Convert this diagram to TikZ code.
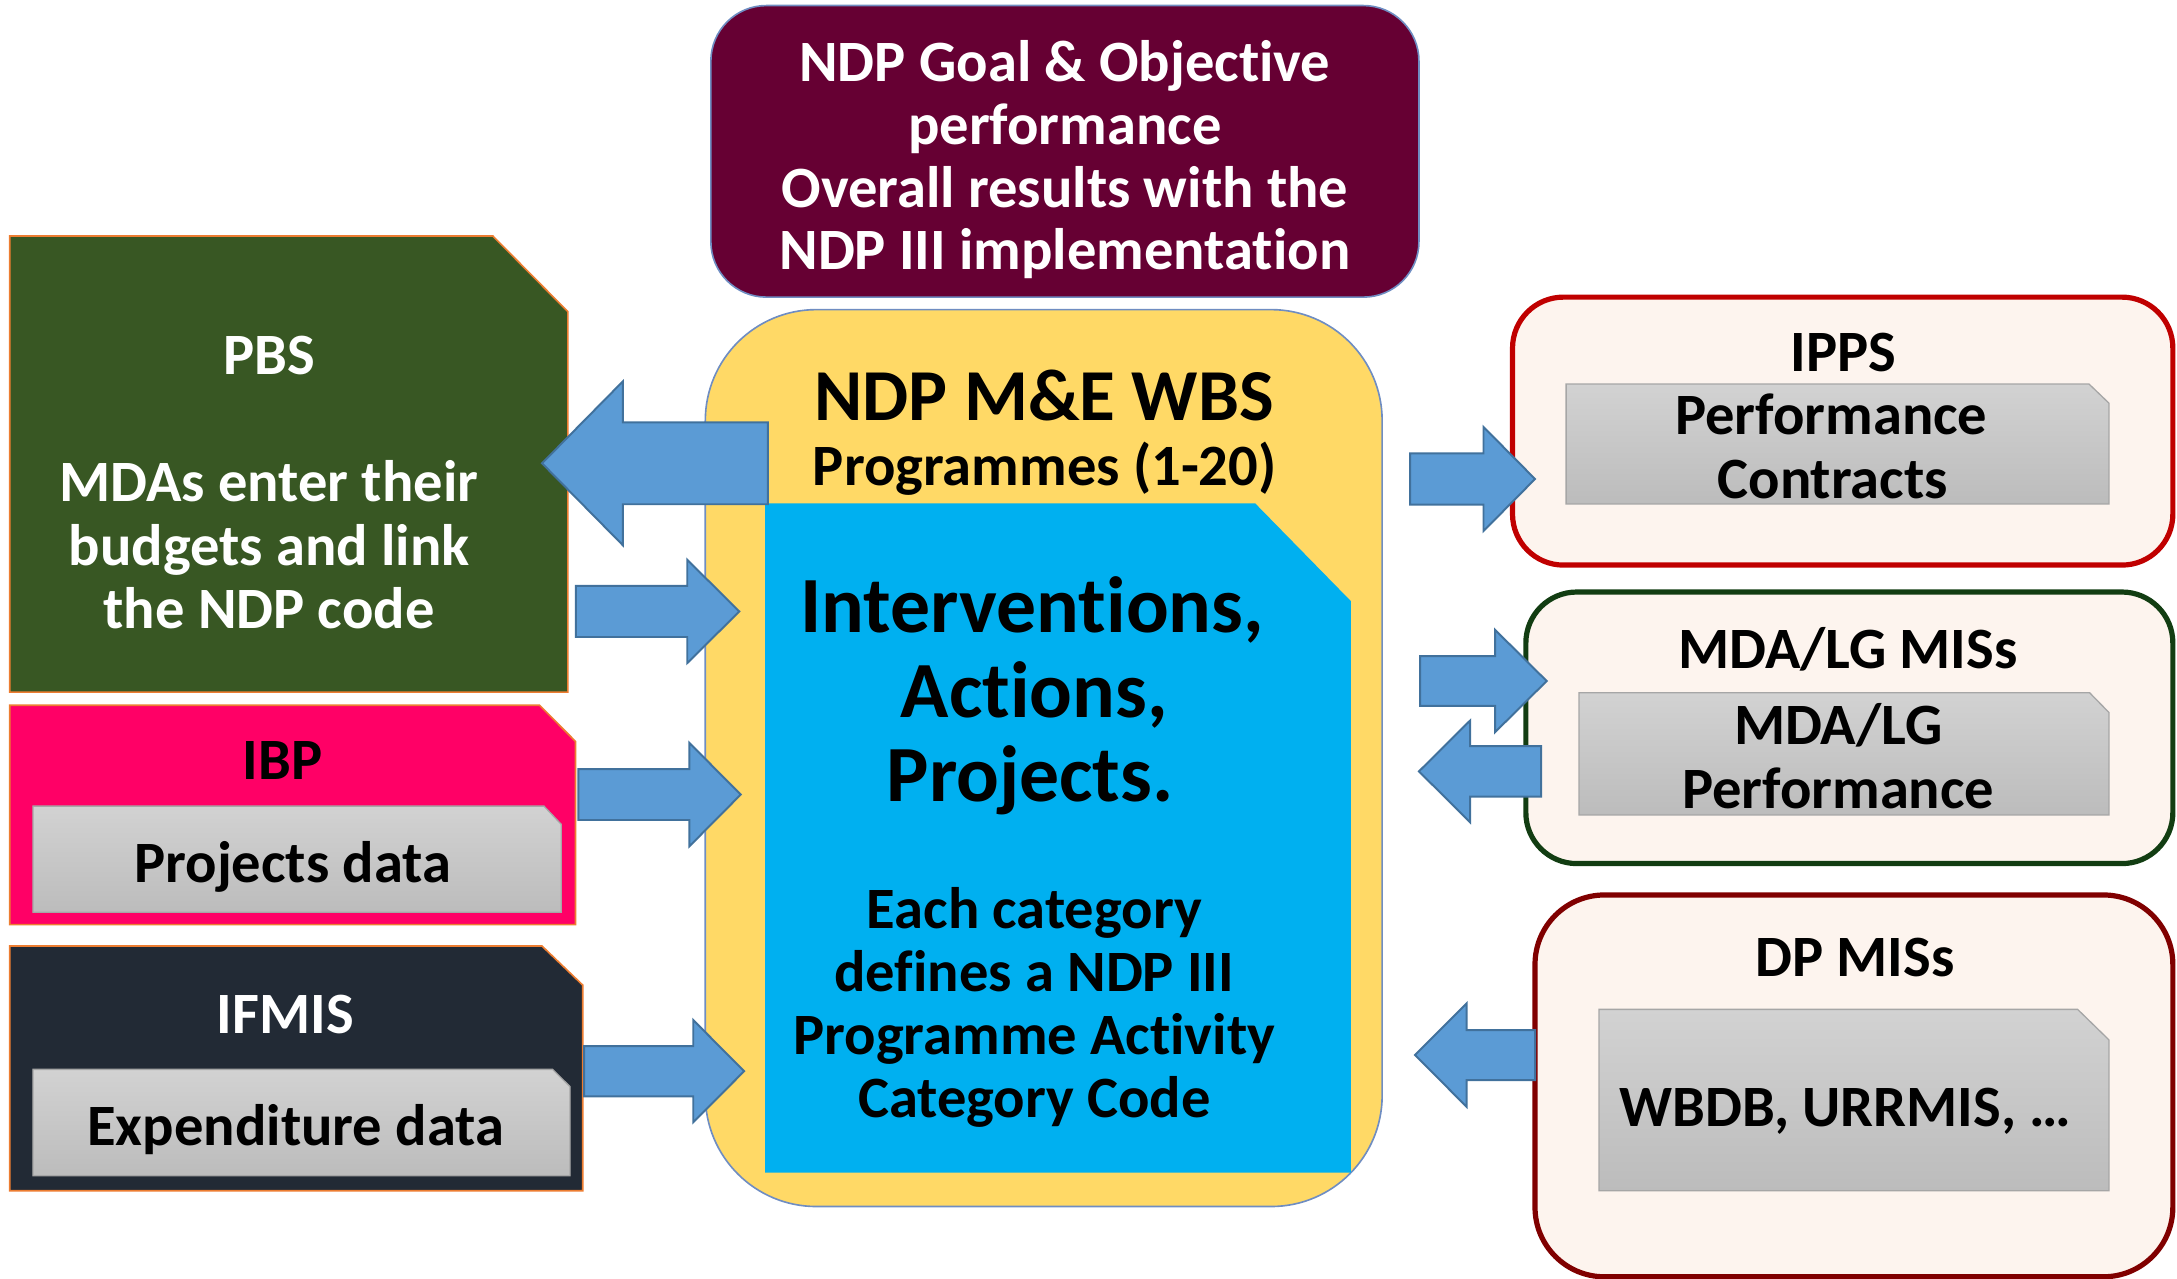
\documentclass[tikz,border=0pt]{standalone}
\usepackage{fontspec}
\setmainfont{Carlito}[Ligatures=NoCommon]
\definecolor{maroonbox}{HTML}{660033}
\definecolor{goldbox}{HTML}{FFD966}
\definecolor{cyanbox}{HTML}{00B0F0}
\definecolor{greenbox}{HTML}{385723}
\definecolor{pinkbox}{HTML}{FF0066}
\definecolor{navybox}{HTML}{222A35}
\definecolor{edgeorange}{HTML}{ED7D31}
\definecolor{edgeblue}{HTML}{6F8DC2}
\definecolor{arrowfill}{HTML}{5B9BD5}
\definecolor{arrowline}{HTML}{41719C}
\definecolor{greytop}{HTML}{D2D2D2}
\definecolor{greybot}{HTML}{BCBCBC}
\definecolor{greyline}{HTML}{A6A6A6}
\definecolor{linenbox}{HTML}{FDF4EE}
\definecolor{edgered}{HTML}{C00000}
\definecolor{edgegreen}{HTML}{123D12}
\definecolor{edgemaroon}{HTML}{800000}
\newcommand\blockarrow[6]{% tail x, head base x, tip x, centre y, shaft half, head half
  \draw[barrow] (#1,#4-#5) -- (#2,#4-#5) -- (#2,#4-#6) -- (#3,#4) -- (#2,#4+#6) -- (#2,#4+#5) -- (#1,#4+#5) -- cycle;}
\begin{document}
\begin{tikzpicture}[x=0.015cm,y=-0.015cm,
  txt/.style={anchor=base,inner sep=0pt,font=\fontsize{18}{20}\selectfont\bfseries},
  bigtxt/.style={anchor=base,inner sep=0pt,font=\fontsize{24.5}{26}\selectfont\bfseries},
  wbstxt/.style={anchor=base,inner sep=0pt,font=\fontsize{22.5}{26}\selectfont\bfseries},
  barrow/.style={fill=arrowfill,draw=arrowline,line width=0.6pt,line join=miter},
  leftbox/.style={draw=edgeorange,line width=0.5pt},
  greybox/.style={top color=greytop,bottom color=greybot,draw=greyline,line width=0.4pt},
  sysbox/.style={fill=linenbox,line width=1.6pt},
]
\useasboundingbox (0,0) rectangle (1568,921);

% top box
\draw[fill=maroonbox,draw=edgeblue,line width=0.5pt,rounded corners=0.6cm] (512,4) rectangle (1022,214);
\node[txt,white] (goal1) at (767,58.7) {NDP Goal \& Objective};
\node[txt,white] (goal2) at (767,104) {performance};
\node[txt,white] (goal3) at (767,149.2) {Overall results with the};
\node[txt,white] (goal4) at (767,194.4) {NDP III implementation};

% central WBS box
\draw[fill=goldbox,draw=edgeblue,line width=0.5pt,rounded corners=1.2cm] (508,223) rectangle (995.5,869);
\node[wbstxt] (wbs) at (752,303) {NDP M\&E WBS};
\node[txt] (prog) at (752.5,350) {Programmes (1-20)};
\fill[cyanbox] (551,362.5) -- (904,362.5) -- (973,433) -- (973,844.5) -- (551,844.5) -- cycle;
\node[bigtxt] (iap1) at (743.5,455.7) {Interventions,};
\node[bigtxt] (iap2) at (745,516.5) {Actions,};
\node[bigtxt] (iap3) at (742,577) {Projects.};
\node[txt] (cat1) at (745,668.8) {Each category};
\node[txt] (cat2) at (745,714.2) {defines a NDP III};
\node[txt] (cat3) at (745,759.6) {Programme Activity};
\node[txt] (cat4) at (745,805) {Category Code};

% PBS
\draw[leftbox,fill=greenbox] (7,170) -- (355,170) -- (409,224.5) -- (409,498.5) -- (7,498.5) -- cycle;
\node[txt,white] (pbs) at (193.8,270) {PBS};
\node[txt,white] (pbs1) at (193.8,361.5) {MDAs enter their};
\node[txt,white] (pbs2) at (193.8,407) {budgets and link};
\node[txt,white] (pbs3) at (193.8,452.5) {the NDP code};

% IBP
\draw[leftbox,fill=pinkbox] (7,508) -- (388.6,508) -- (414.5,534) -- (414.5,666) -- (7,666) -- cycle;
\node[txt] (ibp) at (203.4,561.3) {IBP};
\draw[greybox] (23.7,580.6) -- (391.8,580.6) -- (404.3,593.8) -- (404.3,657.1) -- (23.7,657.1) -- cycle;
\node[txt] (ibpdata) at (210.9,635.8) {Projects data};

% IFMIS
\draw[leftbox,fill=navybox] (7,681.4) -- (390.4,681.4) -- (419.7,709.5) -- (419.7,857.6) -- (7,857.6) -- cycle;
\node[txt,white] (ifmis) at (205.6,744.3) {IFMIS};
\draw[greybox] (23.7,770.2) -- (398,770.2) -- (410.6,782.7) -- (410.6,846.8) -- (23.7,846.8) -- cycle;
\node[txt] (ifmisdata) at (213,824.7) {Expenditure data};

% left arrows
\blockarrow{553}{448.6}{390.4}{333.7}{29.5}{59}
\blockarrow{414.8}{495}{532.5}{440.4}{18.4}{37.2}
\blockarrow{416.6}{496.5}{533.5}{572.3}{18.3}{37.3}
\blockarrow{420.7}{499.3}{536}{771.5}{18.1}{36.8}

% IPPS
\draw[sysbox,draw=edgered,rounded corners=0.55cm] (1089.4,214) rectangle (1565,407);
\node[txt] (ipps) at (1328,267.3) {IPPS};
\draw[greybox] (1128,276.6) -- (1504.6,276.6) -- (1519,290.4) -- (1519,363) -- (1128,363) -- cycle;
\node[txt] (ipps1) at (1319,313.3) {Performance};
\node[txt] (ipps2) at (1320,358.7) {Contracts};

% MDA/LG
\draw[sysbox,draw=edgegreen,rounded corners=0.55cm] (1099,426.4) rectangle (1565,622);
\node[txt] (mda) at (1331,481.4) {MDA/LG MISs};
\draw[greybox] (1137.3,498.9) -- (1505,498.9) -- (1519,513.2) -- (1519,587) -- (1137.3,587) -- cycle;
\node[txt] (mda1) at (1324,536) {MDA/LG};
\node[txt] (mda2) at (1324,582) {Performance};

% DP
\draw[sysbox,draw=edgemaroon,rounded corners=0.75cm] (1105.6,644.6) rectangle (1565,919.6);
\node[txt] (dp) at (1336,703.5) {DP MISs};
\draw[greybox] (1151.7,727) -- (1496.4,727) -- (1519,749) -- (1519,857.6) -- (1151.7,857.6) -- cycle;
\node[txt] (dp1) at (1329,811.5) {WBDB, URRMIS, …};

% right arrows
\blockarrow{1015.6}{1068.5}{1105.6}{345}{18.4}{37.5}
\blockarrow{1022.8}{1076.8}{1114}{490.5}{17.9}{36.9}
\blockarrow{1110}{1058.8}{1022}{555.6}{18.2}{36.6}
\blockarrow{1105.6}{1056.3}{1019.2}{759.9}{18}{37.25}
\end{tikzpicture}
\end{document}
